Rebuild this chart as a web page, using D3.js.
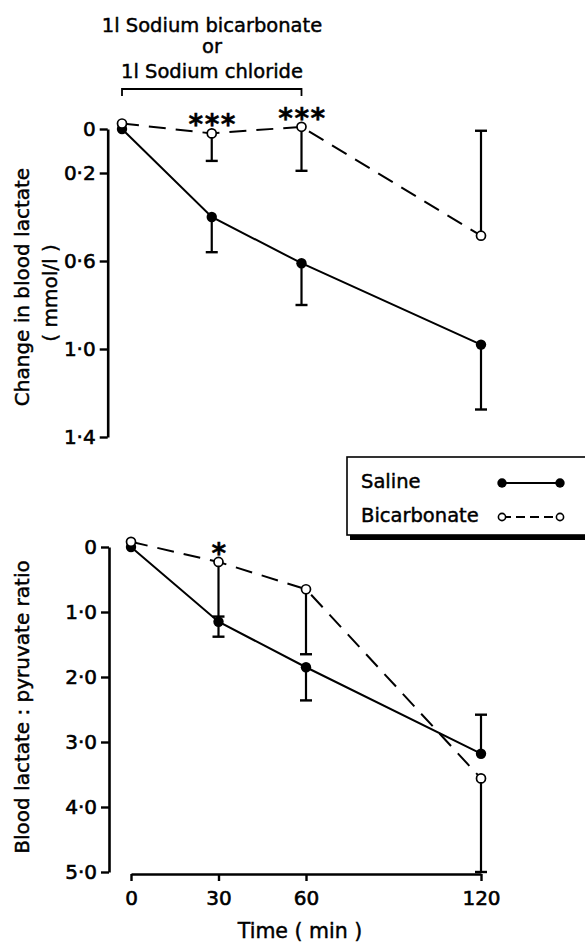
<!DOCTYPE html>
<html>
<head>
<meta charset="utf-8">
<script src="https://cdn.jsdelivr.net/npm/d3@7"></script>
<style>
  body { margin: 0; background: #fff; }
  svg { display: block; }
  text { font-family: "DejaVu Sans", sans-serif; fill: #000; stroke: #000; stroke-width: 0.45px; }
</style>
</head>
<body>
<svg id="chart" width="585" height="942"></svg>
<script>
// Time points (min)
const times = [0, 30, 60, 120];

// Top panel: change in blood lactate (mmol/l)
const lactateSaline = [0, 0.40, 0.61, 0.98];
const lactateSalineErr = [0, 0.16, 0.19, 0.295];
const lactateSalineDir = [1, 1, 1, 1];
const lactateBicarb = [-0.025, 0.02, -0.01, 0.485];
const lactateBicarbErr = [0, 0.125, 0.20, 0.477];
const lactateBicarbDir = [1, 1, 1, -1];
const lactateTicks = [0, 0.2, 0.6, 1.0, 1.4];
const lactateStars = ["", "***", "***", ""];

// Bottom panel: blood lactate : pyruvate ratio
const ratioSaline = [0, 1.15, 1.85, 3.18];
const ratioSalineErr = [0, 0.23, 0.51, 0.60];
const ratioSalineDir = [1, 1, 1, -1];
const ratioBicarb = [-0.08, 0.23, 0.65, 3.56];
const ratioBicarbErr = [0, 0.84, 1.0, 1.44];
const ratioBicarbDir = [1, 1, 1, 1];
const ratioTicks = [0, 1, 2, 3, 4, 5];
const ratioStars = ["", "*", "", ""];

const titleLines = ["1l Sodium bicarbonate", "or", "1l Sodium chloride"];
const legendLabels = ["Saline", "Bicarbonate"];

const svg = d3.select("#chart");

// scales
const xTop = d3.scaleLinear().domain([0, 120]).range([122, 481]);
const yTop = d3.scaleLinear().domain([0, 1.4]).range([129, 437]);
const xBot = d3.scaleLinear().domain([0, 120]).range([131, 481]);
const yBot = d3.scaleLinear().domain([0, 5]).range([547, 872]);

// tick labels use a raised decimal point
const fmt = (v) => (v === 0 ? "0" : d3.format(".1f")(v).replace(".", "\u00b7"));

function styleAxis(g) {
  g.attr("font-family", null).attr("font-size", null);
  g.select(".domain").attr("stroke", "#000").attr("stroke-width", 2.6);
  g.selectAll(".tick line").attr("stroke", "#000").attr("stroke-width", 2.4);
  g.selectAll(".tick text").style("font-size", "20px").style("stroke-width", "0.6px");
}

// Title and bracket
svg.selectAll(".title")
  .data(titleLines)
  .enter()
  .append("text")
  .attr("class", "title")
  .attr("x", 212)
  .attr("y", (d, i) => [32, 53, 78][i])
  .attr("text-anchor", "middle")
  .style("font-size", "19.5px")
  .text((d) => d);

svg.append("path")
  .attr("d", d3.line()([[xTop(0), 96], [xTop(0), 89], [xTop(60), 89], [xTop(60), 96]]))
  .attr("fill", "none")
  .attr("stroke", "#000")
  .attr("stroke-width", 1.8);

// draw one panel
function panel(x, y, axisX, ticks, saline, salErr, salDir, bicarb, bicErr, bicDir, stars) {
  const g = svg.append("g");

  g.append("g")
    .attr("transform", `translate(${axisX},0)`)
    .call(d3.axisLeft(y).tickValues(ticks).tickSize(8).tickSizeOuter(0).tickPadding(4).tickFormat(fmt))
    .call(styleAxis);

  const line = d3.line().x((d, i) => x(times[i])).y((d) => y(d));

  g.append("path")
    .datum(saline)
    .attr("d", line)
    .attr("fill", "none")
    .attr("stroke", "#000")
    .attr("stroke-width", 2);

  g.append("path")
    .datum(bicarb)
    .attr("d", line)
    .attr("fill", "none")
    .attr("stroke", "#000")
    .attr("stroke-width", 2)
    .attr("stroke-dasharray", "17,10");

  // error bars
  function errorBars(vals, errs, dirs) {
    vals.forEach((v, i) => {
      if (!errs[i]) return;
      const end = v + dirs[i] * errs[i];
      const cx = x(times[i]);
      g.append("line")
        .attr("x1", cx).attr("x2", cx)
        .attr("y1", y(v)).attr("y2", y(end))
        .attr("stroke", "#000").attr("stroke-width", 2.2);
      g.append("line")
        .attr("x1", cx - 6).attr("x2", cx + 6)
        .attr("y1", y(end)).attr("y2", y(end))
        .attr("stroke", "#000").attr("stroke-width", 2.4);
    });
  }
  errorBars(saline, salErr, salDir);
  errorBars(bicarb, bicErr, bicDir);

  g.selectAll(".sal")
    .data(saline)
    .enter()
    .append("circle")
    .attr("cx", (d, i) => x(times[i]))
    .attr("cy", (d) => y(d))
    .attr("r", 5.2)
    .attr("fill", "#000");

  g.selectAll(".bic")
    .data(bicarb)
    .enter()
    .append("circle")
    .attr("cx", (d, i) => x(times[i]))
    .attr("cy", (d) => y(d))
    .attr("r", 4.5)
    .attr("fill", "#fff")
    .attr("stroke", "#000")
    .attr("stroke-width", 1.7);

  // significance stars above the bicarbonate points
  g.selectAll(".star")
    .data(stars)
    .enter()
    .append("text")
    .attr("x", (d, i) => x(times[i]) + 1)
    .attr("y", (d, i) => y(bicarb[i]) + 1)
    .attr("text-anchor", "middle")
    .style("font-size", "28px")
    .style("font-weight", "bold")
    .style("letter-spacing", "1.5px")
    .text((d) => d);

  return g;
}

panel(xTop, yTop, 107.7, lactateTicks, lactateSaline, lactateSalineErr, lactateSalineDir,
  lactateBicarb, lactateBicarbErr, lactateBicarbDir, lactateStars);
panel(xBot, yBot, 109, ratioTicks, ratioSaline, ratioSalineErr, ratioSalineDir,
  ratioBicarb, ratioBicarbErr, ratioBicarbDir, ratioStars);

// x axis (bottom panel only)
svg.append("g")
  .attr("transform", "translate(0,874)")
  .call(d3.axisBottom(xBot).tickValues(times).tickSize(7).tickSizeOuter(0).tickPadding(10))
  .call(styleAxis);

svg.append("text")
  .attr("x", 300)
  .attr("y", 938)
  .attr("text-anchor", "middle")
  .style("font-size", "20.5px")
  .text("Time ( min )");

// y axis titles
svg.append("text")
  .attr("transform", "translate(29,287) rotate(-90)")
  .attr("text-anchor", "middle")
  .style("font-size", "20px")
  .text("Change in blood lactate");
svg.append("text")
  .attr("transform", "translate(57,293) rotate(-90)")
  .attr("text-anchor", "middle")
  .style("font-size", "20px")
  .text("( mmol/l )");
svg.append("text")
  .attr("transform", "translate(29,707) rotate(-90)")
  .attr("text-anchor", "middle")
  .style("font-size", "20px")
  .text("Blood lactate : pyruvate ratio");

// Legend box with shadow
const legend = svg.append("g");
legend.append("rect")
  .attr("x", 350).attr("y", 534)
  .attr("width", 260).attr("height", 6)
  .attr("fill", "#000");
legend.append("rect")
  .attr("x", 347).attr("y", 457)
  .attr("width", 260).attr("height", 78)
  .attr("fill", "#fff")
  .attr("stroke", "#000")
  .attr("stroke-width", 1.6);

const legendY = [483, 517];
legend.selectAll(".lab")
  .data(legendLabels)
  .enter()
  .append("text")
  .attr("x", 361)
  .attr("y", (d, i) => legendY[i] + 5)
  .style("font-size", "19.5px")
  .text((d) => d);

legend.append("line")
  .attr("x1", 502).attr("x2", 560)
  .attr("y1", legendY[0]).attr("y2", legendY[0])
  .attr("stroke", "#000").attr("stroke-width", 2);
legend.append("line")
  .attr("x1", 502).attr("x2", 560)
  .attr("y1", legendY[1]).attr("y2", legendY[1])
  .attr("stroke", "#000").attr("stroke-width", 2)
  .attr("stroke-dasharray", "9,5");
[502, 560].forEach((cx) => {
  legend.append("circle")
    .attr("cx", cx).attr("cy", legendY[0]).attr("r", 4.7)
    .attr("fill", "#000");
  legend.append("circle")
    .attr("cx", cx).attr("cy", legendY[1]).attr("r", 3.6)
    .attr("fill", "#fff").attr("stroke", "#000").attr("stroke-width", 1.6);
});
</script>
</body>
</html>
